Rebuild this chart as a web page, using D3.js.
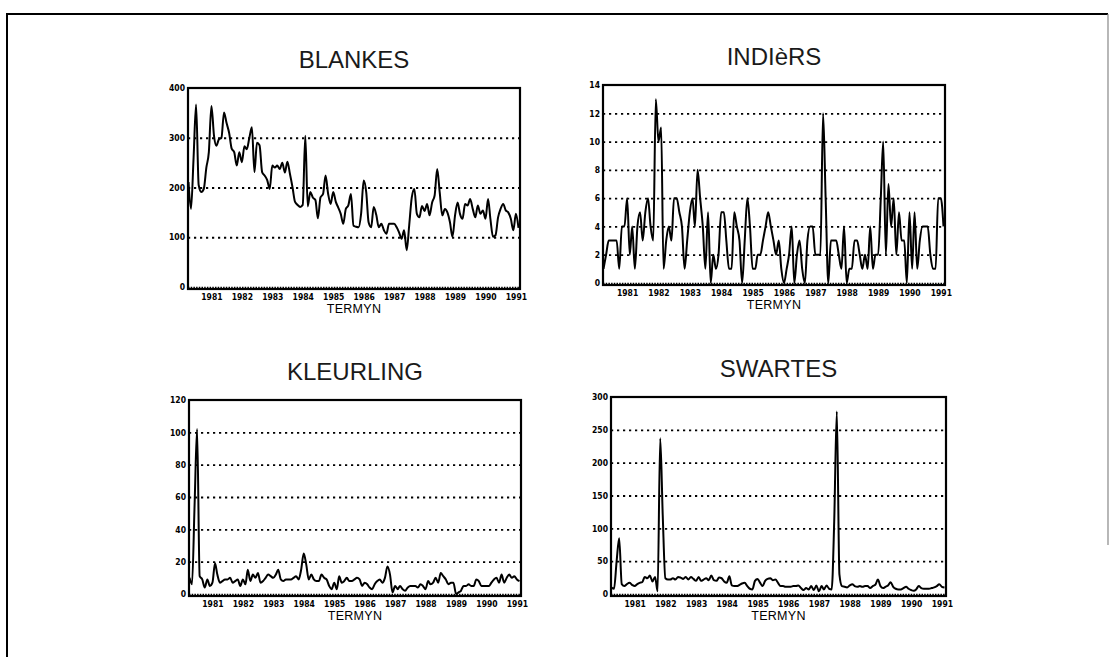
<!DOCTYPE html>
<html><head><meta charset="utf-8">
<script src="https://cdn.jsdelivr.net/npm/d3@7"></script>
<style>
html,body{margin:0;padding:0;background:#fff;}
svg{display:block;}
.title{font-family:"Liberation Sans",Arial,sans-serif;font-size:24px;fill:#1a1a1a;}
.tick text{font-family:"DejaVu Sans Condensed","DejaVu Sans",sans-serif;font-weight:bold;font-size:8.5px;fill:#000;}
.xlab{font-family:"Liberation Sans",Arial,sans-serif;font-size:12.5px;fill:#000;letter-spacing:0.3px;}
</style></head><body>
<svg id="chart" width="1111" height="657"></svg>
<script>
// monthly series, April 1980 .. February 1991
const blankes = [211,157,260,367,205,191,197,240,271,364,
  304,284,297,300,351,330,310,278,271,244,
  271,251,283,277,300,321,231,290,285,231,
  224,215,197,244,240,244,237,250,230,252,
  227,200,171,165,161,165,304,162,191,180,
  175,138,180,187,224,187,167,191,171,160,
  147,127,157,164,187,123,121,120,147,214,
  190,130,120,161,145,120,127,114,107,127,
  127,127,120,110,97,114,74,124,180,197,
  147,140,163,153,167,144,170,184,237,190,
  144,157,150,130,101,144,170,147,137,167,
  164,177,157,140,164,147,154,137,177,137,
  101,104,140,157,167,154,150,137,114,147,
  119];
const indiers = [1,2,3,3,3,3,1,4,4,6,
  2,4,1,4,5,3,5,6,4,3,
  13,10,11,1,3,4,3,6,6,5,
  4,1,3,5,6,4,8,6,4,1,
  5,0,2,1,2,5,5,3,1,1,
  5,4,3,0,3,6,4,1,1,2,
  2,3,4,5,4,3,2,3,1,0,
  1,2,4,0,2,3,1,0,3,4,
  4,2,2,2,12,6,0,3,3,3,
  2,1,4,0,1,1,3,3,2,1,
  2,1,4,1,2,2,6,10,2,7,
  4,6,2,5,3,3,0,5,1,5,
  1,3,4,4,4,2,1,1,6,6,
  4];
const kleurling = [10,6,55,102,11,9,4,9,5,7,
  19,12,7,8,9,9,10,7,8,9,
  5,9,6,15,8,12,10,13,7,8,
  10,12,11,10,12,15,9,8,9,9,
  9,10,11,9,15,25,18,9,12,9,
  8,8,12,10,9,5,3,7,3,11,
  7,8,10,8,8,9,10,9,5,7,
  6,4,3,6,8,9,7,10,17,12,
  1,5,3,5,3,2,4,5,5,5,
  4,6,5,3,8,6,7,10,7,13,
  11,9,6,7,7,0,1,2,5,5,
  6,5,5,9,8,5,5,5,5,7,
  9,10,7,12,7,10,12,10,11,9,
  8];
const swartes = [10,8,50,85,15,12,15,17,14,12,
  15,17,18,26,24,28,19,26,4,237,
  120,24,22,22,24,22,26,25,23,26,
  22,26,23,20,26,20,22,24,21,28,
  21,20,25,24,19,17,27,13,12,12,
  14,16,17,12,8,7,20,23,17,12,
  20,23,24,21,22,17,12,12,11,11,
  11,12,12,13,9,6,9,7,12,6,
  13,4,12,7,13,8,7,110,278,30,
  12,11,10,13,15,12,11,12,11,12,
  12,9,12,14,22,12,9,11,13,18,
  11,8,7,7,9,11,8,6,5,7,
  12,9,8,8,8,9,10,12,15,11,
  10];
const years = [1981,1982,1983,1984,1985,1986,1987,1988,1989,1990,1991];
const blankesTicks = [0,100,200,300,400];
const indiersTicks = [0,2,4,6,8,10,12,14];
const kleurlingTicks = [0,20,40,60,80,100,120];
const swartesTicks = [0,50,100,150,200,250,300];
const titles = ["BLANKES","INDIèRS","KLEURLING","SWARTES"];
const xTitle = "TERMYN";

const startMonth = new Date(1980,3,1);
const months = d3.range(blankes.length).map(i => d3.timeMonth.offset(startMonth, i));

const panels = [
  {title:titles[0], values:blankes,   ticks:blankesTicks,   box:{l:188,r:520,t:88,b:289}},
  {title:titles[1], values:indiers,   ticks:indiersTicks,   box:{l:603,r:945,t:85,b:285}},
  {title:titles[2], values:kleurling, ticks:kleurlingTicks, box:{l:189,r:521,t:400,b:596}},
  {title:titles[3], values:swartes,   ticks:swartesTicks,   box:{l:611,r:946,t:397,b:596}}
];

const svg = d3.select("#chart");
svg.append("rect").attr("width",1111).attr("height",657).attr("fill","#fff");
// outer frame
svg.append("path").attr("d","M7,657 V14 H1108").attr("fill","none")
  .attr("stroke","#000").attr("stroke-width",2);
svg.append("line").attr("x1",1108).attr("x2",1108).attr("y1",14).attr("y2",545)
  .attr("stroke","#888").attr("stroke-width",1.2);

panels.forEach(p => {
  const {l,r,t,b} = p.box;
  const maxV = d3.max(p.ticks);
  const x = d3.scaleTime().domain([months[0], months[months.length-1]]).range([l+0.5, r-1.5]);
  const y = d3.scaleLinear().domain([0, maxV]).range([b-2, t]);
  const g = svg.append("g");

  // dotted grid lines
  const inner = p.ticks.filter(v => v > 0 && v < maxV);
  g.append("g").attr("transform",`translate(${l},0)`)
    .call(d3.axisLeft(y).tickValues(inner).tickSize(-(r-l)).tickFormat(""))
    .call(s => s.select(".domain").remove())
    .selectAll("line").attr("stroke","#000").attr("stroke-width",1.8).attr("stroke-dasharray","2.2,3.8");
  // zero line (dense dots)
  g.append("g").attr("transform",`translate(${l},0)`)
    .call(d3.axisLeft(y).tickValues([0]).tickSize(-(r-l)).tickFormat(""))
    .call(s => s.select(".domain").remove())
    .selectAll("line").attr("stroke","#000").attr("stroke-width",1.5).attr("stroke-dasharray","1.5,1.2");

  // series line
  const line = d3.line().curve(d3.curveMonotoneX).x((d,i) => x(months[i])).y(d => y(d));
  g.append("path").datum(p.values).attr("d", line).attr("fill","none")
    .attr("stroke","#000").attr("stroke-width",2).attr("stroke-linejoin","round");

  // frame
  g.append("rect").attr("x",l).attr("y",t).attr("width",r-l).attr("height",b-t)
    .attr("fill","none").attr("stroke","#000").attr("stroke-width",2.2);

  // y labels
  g.append("g").attr("transform",`translate(${l-3},0)`)
    .call(d3.axisLeft(y).tickValues(p.ticks).tickSize(0).tickPadding(0))
    .call(s => s.select(".domain").remove());

  // x labels
  g.append("g").attr("transform",`translate(0,${b+5})`)
    .call(d3.axisBottom(x).tickValues(years.map(yy => new Date(yy,0,1)))
      .tickFormat(d3.timeFormat("%Y")).tickSize(0).tickPadding(0))
    .call(s => s.select(".domain").remove());

  // axis title
  g.append("text").attr("class","xlab").attr("x",(l+r)/2).attr("y",b+24)
    .attr("text-anchor","middle").text(xTitle);

  // panel title
  g.append("text").attr("class","title").attr("x",(l+r)/2).attr("y",t-20)
    .attr("text-anchor","middle").text(p.title);
});
</script>
</body></html>
